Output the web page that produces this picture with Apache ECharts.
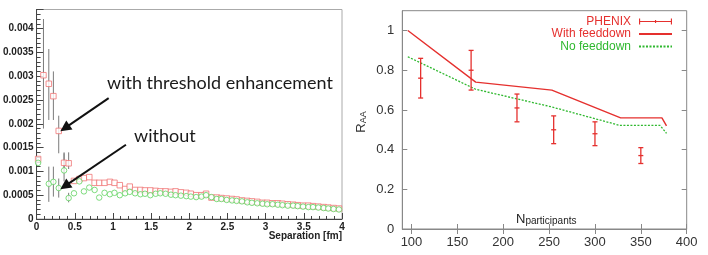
<!DOCTYPE html>
<html>
<head>
<meta charset="utf-8">
<script src="https://cdn.jsdelivr.net/npm/echarts@6.0.0/dist/echarts.min.js"></script>
<style>
html,body{margin:0;padding:0;background:#fff;}
#chart{width:708px;height:255px;}
</style>
</head>
<body>
<div id="chart"></div>
<script>
// ---------- Left panel data (Separation [fm]) ----------
const sepX = [
  0.02,0.09,0.16,0.22,0.29,0.36,0.42,0.49,0.56,0.62,
  0.69,0.76,0.82,0.89,0.96,1.02,1.09,1.16,1.22,1.29,
  1.36,1.42,1.49,1.56,1.62,1.69,1.76,1.82,1.89,1.96,
  2.02,2.09,2.16,2.22,2.29,2.36,2.42,2.49,2.56,2.62,
  2.69,2.76,2.82,2.89,2.96,3.02,3.09,3.16,3.22,3.29,
  3.36,3.42,3.49,3.56,3.62,3.69,3.76,3.82,3.89,3.96
];
const withThreshold = [
  0.00126,0.00302,0.00284,0.00258,0.00185,0.00118,0.00117,0.00080,0.00084,0.00086,
  0.00088,0.00076,0.00076,0.00076,0.00078,0.00076,0.00071,0.00063,0.00068,0.00061,
  0.00061,0.00060,0.00060,0.00059,0.00058,0.00058,0.00057,0.00058,0.00056,0.00055,
  0.00053,0.00050,0.00050,0.00053,0.00045,0.00045,0.00044,0.00043,0.00042,0.00041,
  0.00039,0.00038,0.00037,0.00036,0.00034,0.00034,0.00033,0.00033,0.00032,0.00031,
  0.00030,0.00029,0.00028,0.00028,0.00027,0.00026,0.00025,0.00024,0.00023,0.00022
];
const withoutThreshold = [
  0.00118,null,0.00074,0.00078,0.00065,0.00102,0.00044,0.00054,0.00079,0.00058,
  0.00066,0.00061,0.00045,0.00055,0.00052,0.00055,0.00050,0.00054,0.00057,0.00054,
  0.00052,0.00053,0.00050,0.00053,0.00054,0.00053,0.00051,0.00050,0.00049,0.00048,
  0.00047,0.00046,0.00047,0.00050,0.00046,0.00042,0.00042,0.00040,0.00039,0.00038,
  0.00037,0.00035,0.00034,0.00033,0.00032,0.00031,0.00031,0.00030,0.00029,0.00028,
  0.00028,0.00027,0.00026,0.00025,0.00025,0.00024,0.00023,0.00022,0.00021,0.00020
];
// error bars (x, low, high)
const redErrX  = [0.09, 0.16, 0.22, 0.29, 0.36, 0.42];
const redErrLo = [0.00190,0.00208,0.00208,0.00138,0.00098,0.00105];
const redErrHi = [0.00420,0.00357,0.00310,0.00217,0.00140,0.00140];
const greenErrX  = [0.16, 0.22, 0.29, 0.36, 0.42];
const greenErrLo = [0.00036,0.00047,0.00045,0.00079,0.00035];
const greenErrHi = [0.00110,0.00110,0.00085,0.00138,0.00055];
const leftYTicks = ['0','0.0005','0.001','0.0015','0.002','0.0025','0.003','0.0035','0.004'];
const leftXTicks = ['0','0.5','1','1.5','2','2.5','3','3.5','4'];

// ---------- Right panel data (R_AA vs N_participants) ----------
const phenixN  = [110, 165, 215, 255, 300, 350];
const phenixR  = [0.76, 0.80, 0.61, 0.50, 0.48, 0.37];
const phenixLo = [0.66, 0.70, 0.54, 0.43, 0.42, 0.33];
const phenixHi = [0.86, 0.90, 0.68, 0.57, 0.54, 0.41];
const feedN  = [96, 170, 253, 328, 373, 378];
const feedR  = [1.00, 0.74, 0.70, 0.56, 0.56, 0.52];
const nofeedN = [96, 170, 253, 327, 371, 378];
const nofeedR = [0.868, 0.704, 0.615, 0.522, 0.522, 0.482];
const rightXTicks = [100, 150, 200, 250, 300, 350, 400];
const rightYTicks = [0, 0.2, 0.4, 0.6, 0.8, 1];
const rightYLabels = ['0','0.2','0.4','0.6','0.8','1'];

// ---------- build ----------
const RED = '#f07575';
const GREEN = '#5fd35f';
const LRED = '#e5302e';
const LGREEN = '#2fb82f';

const zip = (a, b) => a.map((v, i) => [v, b[i]]);
const zip3 = (a, b, c) => a.map((v, i) => [v, b[i], c[i]]);

function errRender(color) {
  return function (params, api) {
    const x = api.value(0), lo = api.value(1), hi = api.value(2);
    const p1 = api.coord([x, lo]), p2 = api.coord([x, hi]);
    return { type: 'line', shape: { x1: p1[0], y1: p1[1], x2: p2[0], y2: p2[1] },
      style: { stroke: color, lineWidth: 1 } };
  };
}
function phenixRender(params, api) {
  const x = api.value(0), c = api.value(1), lo = api.value(2), hi = api.value(3);
  const pc = api.coord([x, c]), pl = api.coord([x, lo]), ph = api.coord([x, hi]);
  const w = 2.5, st = { stroke: LRED, lineWidth: 1.3 };
  return { type: 'group', children: [
    { type: 'line', shape: { x1: pl[0], y1: pl[1], x2: ph[0], y2: ph[1] }, style: st },
    { type: 'line', shape: { x1: pl[0]-w, y1: pl[1], x2: pl[0]+w, y2: pl[1] }, style: st },
    { type: 'line', shape: { x1: ph[0]-w, y1: ph[1], x2: ph[0]+w, y2: ph[1] }, style: st },
    { type: 'line', shape: { x1: pc[0]-w, y1: pc[1], x2: pc[0]+w, y2: pc[1] }, style: st }
  ]};
}

const boldLbl = { fontFamily: 'Liberation Sans', fontWeight: 'bold', fontSize: 10, color: '#222' };
const rightLbl = { fontFamily: 'Liberation Sans', fontSize: 13, color: '#333' };

const option = {
  animation: false,
  backgroundColor: '#fff',
  grid: [
    { left: 35.5, top: 9.5, width: 306.5, height: 209.5, show: true, borderColor: '#aaa', borderWidth: 1, backgroundColor: 'transparent' },
    { left: 402.3, top: 10.7, width: 284.4, height: 218.3, show: true, borderColor: '#888', borderWidth: 1, backgroundColor: 'transparent' }
  ],
  xAxis: [
    { gridIndex: 0, type: 'value', min: 0, max: 4, interval: 0.5,
      axisLine: { show: true, lineStyle: { color: '#444', width: 1 } },
      axisTick: { show: true, inside: true, length: 6, lineStyle: { color: '#444' } },
      minorTick: { show: true, splitNumber: 5, length: 3, lineStyle: { color: '#444' } },
      splitLine: { show: false }, minorSplitLine: { show: false },
      axisLabel: Object.assign({ margin: 3, formatter: v => { const i = Math.round(v / 0.5); return Math.abs(i*0.5 - v) < 1e-9 ? leftXTicks[i] : ''; } }, boldLbl) },
    { gridIndex: 1, type: 'value', min: 90, max: 400,
      axisLine: { show: true, lineStyle: { color: '#888' } },
      axisTick: { show: true, inside: true, length: 5, customValues: rightXTicks, lineStyle: { color: '#888' } },
      splitLine: { show: false },
      axisLabel: Object.assign({ margin: 7, customValues: rightXTicks, formatter: v => String(v) }, rightLbl) },
    { gridIndex: 1, type: 'value', min: 90, max: 400, position: 'top',
      axisLine: { show: false },
      axisTick: { show: true, inside: true, length: 5, customValues: rightXTicks, lineStyle: { color: '#888' } },
      splitLine: { show: false }, axisLabel: { show: false } }
  ],
  yAxis: [
    { gridIndex: 0, type: 'value', min: 0, max: 0.0044, interval: 0.0005,
      axisLine: { show: true, lineStyle: { color: '#444', width: 1 } },
      axisTick: { show: true, inside: true, length: 7, lineStyle: { color: '#444' } },
      minorTick: { show: true, splitNumber: 5, length: 4, lineStyle: { color: '#444' } },
      splitLine: { show: false }, minorSplitLine: { show: false },
      axisLabel: Object.assign({ margin: 3, showMaxLabel: false, formatter: v => { const i = Math.round(v / 0.0005); return Math.abs(i*0.0005 - v) < 1e-12 && i < leftYTicks.length ? leftYTicks[i] : ''; } }, boldLbl) },
    { gridIndex: 1, type: 'value', min: 0, max: 1.1,
      axisLine: { show: true, lineStyle: { color: '#888' } },
      axisTick: { show: true, inside: true, length: 5, customValues: rightYTicks, lineStyle: { color: '#888' } },
      splitLine: { show: false },
      axisLabel: Object.assign({ margin: 8, customValues: rightYTicks, formatter: v => rightYLabels[rightYTicks.indexOf(v)] ?? '' }, rightLbl) },
    { gridIndex: 1, type: 'value', min: 0, max: 1.1, position: 'right',
      axisLine: { show: false },
      axisTick: { show: true, inside: true, length: 5, customValues: rightYTicks, lineStyle: { color: '#888' } },
      splitLine: { show: false }, axisLabel: { show: false } }
  ],
  legend: {
    orient: 'vertical', right: 35, top: 15.5, align: 'right', padding: 0,
    itemWidth: 33, itemHeight: 8, itemGap: 0.5,
    textStyle: { fontFamily: 'Liberation Sans', fontSize: 12, lineHeight: 10, padding: [0, 3, 0, 0] },
    data: [
      { name: 'PHENIX', icon: 'path://M0,3.5H32V4.6H0Z M0,1H1.1V7H0Z M15.5,2.5H16.6V5.5H15.5Z M30.9,1H32V7H30.9Z', textStyle: { color: LRED },
        itemStyle: { color: LRED, borderWidth: 0, opacity: 1 } },
      { name: 'With feeddown', textStyle: { color: LRED }, itemStyle: { opacity: 0 } },
      { name: 'No feeddown', textStyle: { color: LGREEN }, itemStyle: { opacity: 0 } }
    ]
  },
  series: [
    { name: 'errRed', type: 'custom', xAxisIndex: 0, yAxisIndex: 0, renderItem: errRender('#7a7a7a'),
      encode: { x: 0, y: [1, 2] }, data: zip3(redErrX, redErrLo, redErrHi), z: 1, silent: true },
    { name: 'errGreen', type: 'custom', xAxisIndex: 0, yAxisIndex: 0, renderItem: errRender('#7a7a7a'),
      encode: { x: 0, y: [1, 2] }, data: zip3(greenErrX, greenErrLo, greenErrHi), z: 1, silent: true },
    { name: 'with threshold enhancement', type: 'scatter', xAxisIndex: 0, yAxisIndex: 0,
      symbol: 'rect', symbolSize: 5.5, z: 3,
      itemStyle: { color: '#fff', borderColor: RED, borderWidth: 1 },
      data: zip(sepX, withThreshold),
      markLine: {
        silent: true, animation: false, symbol: ['none', 'triangle'], symbolSize: 11,
        label: { show: false },
        lineStyle: { color: '#111', width: 2, type: 'solid' },
        emphasis: { disabled: true },
        data: [
          [{ coord: [0.944, 0.00254] }, { coord: [0.37, 0.00191] }],
          [{ coord: [1.17, 0.00156] }, { coord: [0.37, 0.00069] }]
        ]
      } },
    { name: 'without', type: 'scatter', xAxisIndex: 0, yAxisIndex: 0,
      symbol: 'circle', symbolSize: 5.5, z: 4,
      itemStyle: { color: '#fff', borderColor: GREEN, borderWidth: 1 },
      data: zip(sepX, withoutThreshold).filter(d => d[1] !== null) },

    { name: 'With feeddown', type: 'line', xAxisIndex: 1, yAxisIndex: 1, symbol: 'none',
      lineStyle: { color: LRED, width: 1.4 }, itemStyle: { color: LRED }, data: zip(feedN, feedR), z: 3 },
    { name: 'No feeddown', type: 'line', xAxisIndex: 1, yAxisIndex: 1, symbol: 'none',
      lineStyle: { color: LGREEN, width: 1.3, type: [2, 1.5] }, itemStyle: { color: LGREEN }, data: zip(nofeedN, nofeedR), z: 3 },
    { name: 'PHENIX', type: 'custom', xAxisIndex: 1, yAxisIndex: 1, renderItem: phenixRender,
      encode: { x: 0, y: [1, 2, 3] }, itemStyle: { color: LRED, borderColor: LRED },
      data: phenixN.map((n, i) => [n, phenixR[i], phenixLo[i], phenixHi[i]]), z: 4 }
  ],
  graphic: [
    { type: 'text', left: 107, top: 74, style: { text: 'with threshold enhancement', font: '18px Lato', fill: '#1a1a1a' } },
    { type: 'text', left: 134, top: 127, style: { text: 'without', font: '18px Lato', fill: '#1a1a1a' } },
    { type: 'text', right: 366, top: 231, style: { text: 'Separation [fm]', font: 'bold 10px "Liberation Sans"', fill: '#222' } },
    { type: 'text', x: 361, y: 122, rotation: Math.PI / 2,
      style: { text: '{r|R}{s|AA}', align: 'center', verticalAlign: 'middle',
        rich: { r: { fontFamily: 'Liberation Sans', fontSize: 13, fill: '#333', lineHeight: 15 },
                s: { fontFamily: 'Liberation Sans', fontSize: 9, fill: '#333', lineHeight: 15, verticalAlign: 'bottom', padding: [5, 0, 0, 0] } } } },
    { type: 'text', x: 516, y: 219,
      style: { text: '{n|N}{s|participants}', align: 'left', verticalAlign: 'middle',
        rich: { n: { fontFamily: 'Liberation Sans', fontSize: 13, fill: '#222', lineHeight: 15 },
                s: { fontFamily: 'Liberation Sans', fontSize: 10, fill: '#222', lineHeight: 15, verticalAlign: 'bottom', padding: [5, 0, 0, 0] } } } }
  ]
};

const chart = echarts.init(document.getElementById('chart'), null, { renderer: 'canvas' });
chart.setOption(option);
</script>
</body>
</html>
